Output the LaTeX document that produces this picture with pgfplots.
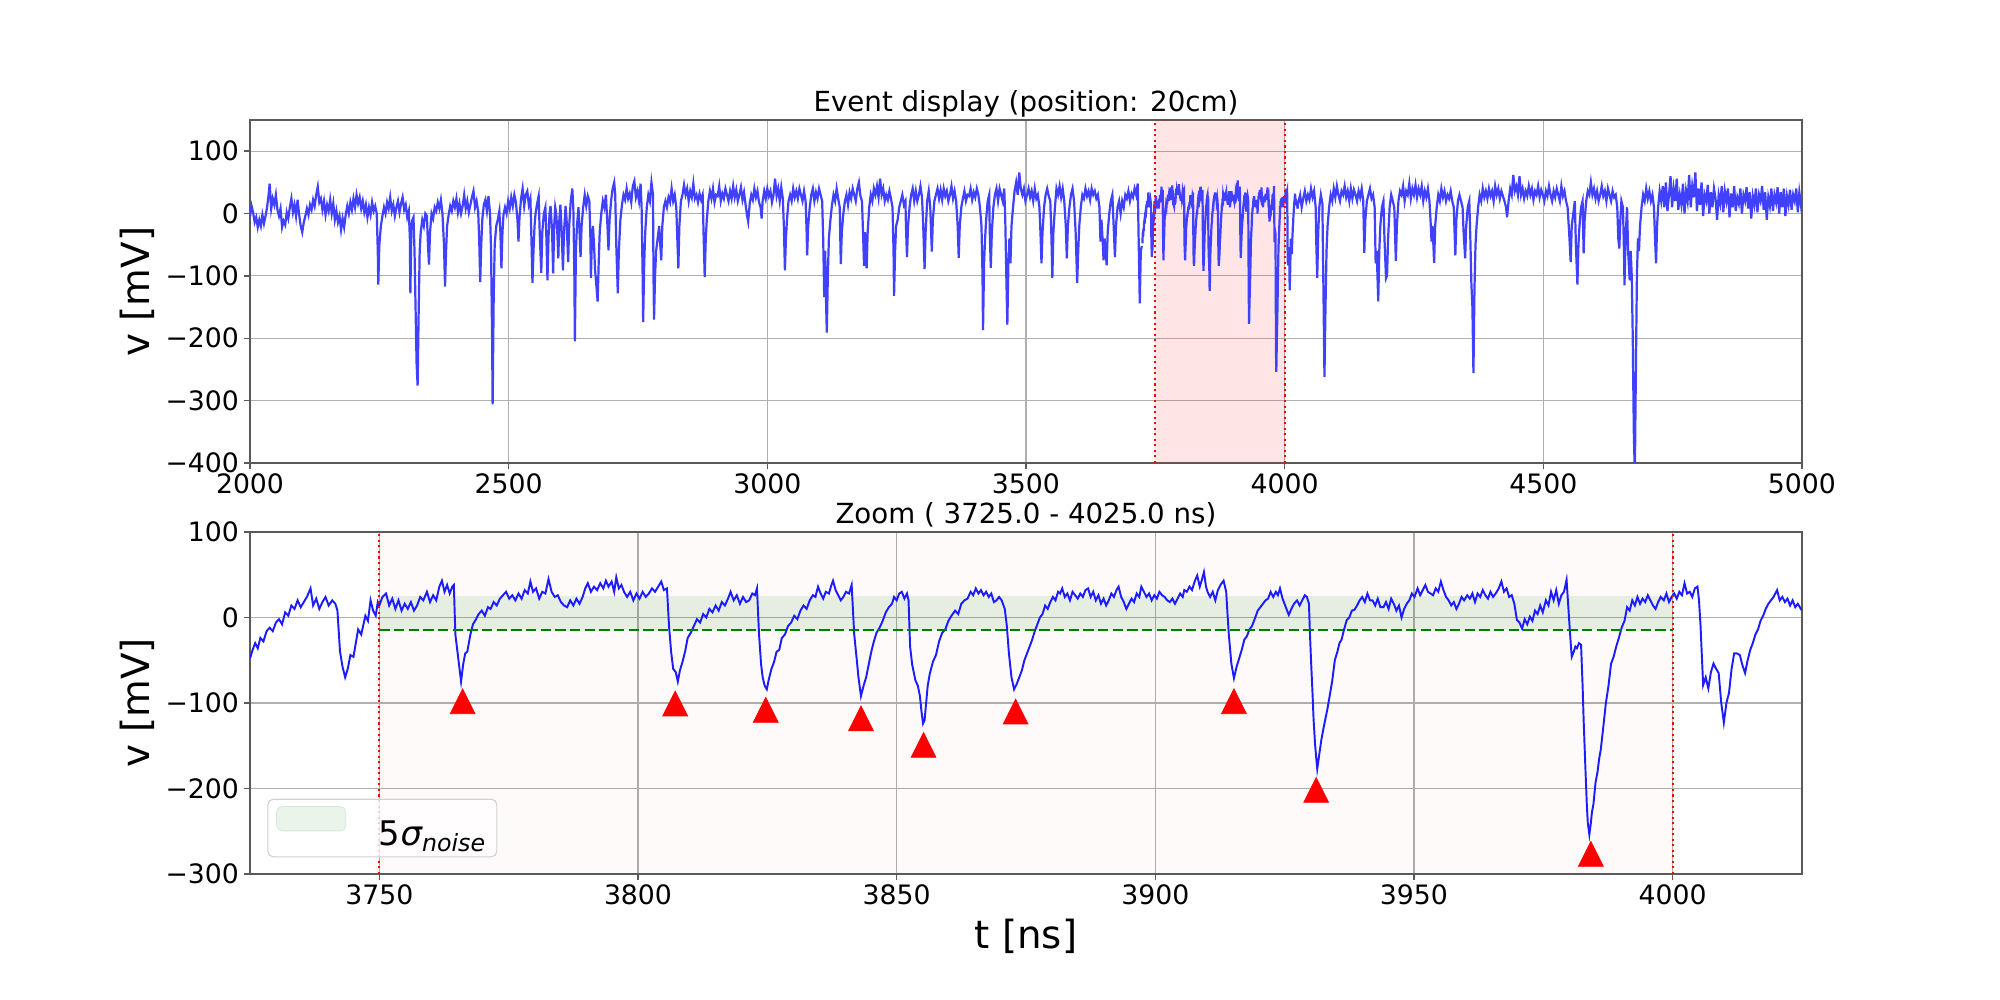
\documentclass[border=0pt]{standalone}
\usepackage{fontspec}
\setmainfont{DejaVu Sans}
\usepackage{pgfplots}
\usepackage{pgfplotstable}
\pgfplotsset{compat=1.18}
\definecolor{traceA}{RGB}{64,64,255}
\definecolor{traceB}{RGB}{28,28,255}
\definecolor{mgreen}{RGB}{0,128,0}
\definecolor{gridc}{RGB}{176,176,176}
\definecolor{spine}{RGB}{90,90,90}
\definecolor{legG}{RGB}{229,242,229}
\definecolor{legGe}{RGB}{214,232,214}
\pgfdeclareplotmark{mtri}{%
  \pgfpathmoveto{\pgfqpoint{0pt}{\pgfplotmarksize}}%
  \pgfpathlineto{\pgfqpoint{-\pgfplotmarksize}{-\pgfplotmarksize}}%
  \pgfpathlineto{\pgfqpoint{\pgfplotmarksize}{-\pgfplotmarksize}}%
  \pgfpathclose\pgfusepathqfillstroke}
\newcommand\tickfont{\fontsize{19.3}{23}\selectfont}
\newcommand\labfont{\fontsize{28}{33}\selectfont}
\newcommand\titfont{\fontsize{20}{24}\selectfont}

\pgfplotstableread{
t v
2000 -5
2003 12
2006 2
2009 -14
2012 -6
2015 -22
2018 -10
2021 -20
2024 -2
2027 -16
2030 -4
2033 10
2036 30
2038 48
2041 8
2044 24
2047 14
2050 30
2053 6
2056 -4
2059 8
2062 -22
2065 -12
2068 -18
2071 2
2074 -8
2077 10
2080 24
2083 2
2086 14
2089 -4
2092 22
2095 -2
2098 -20
2101 -30
2104 -14
2107 -4
2110 8
2113 -2
2116 14
2119 6
2122 22
2125 12
2128 30
2131 43
2134 18
2137 24
2140 6
2143 20
2146 -2
2149 14
2152 4
2155 22
2158 0
2161 16
2164 -10
2167 4
2170 -14
2173 -4
2176 -26
2179 -8
2182 -22
2185 -2
2188 12
2191 0
2194 18
2197 6
2200 24
2203 10
2206 30
2209 16
2212 26
2215 8
2218 20
2221 2
2224 14
2227 -6
2230 10
2233 -2
2236 18
2239 4
2242 12
2245 0
2247 -60
2248 -114
2250 -50
2253 -20
2256 -4
2259 10
2262 0
2265 18
2268 8
2271 26
2274 4
2277 14
2280 -4
2283 10
2286 20
2289 2
2292 16
2295 26
2298 6
2301 14
2304 -6
2307 4
2309 -40
2310 -128
2312 -20
2314 -10
2316 -6
2318 -60
2320 -150
2322 -240
2324 -276
2326 -160
2328 -60
2330 -30
2333 -10
2336 -20
2339 0
2342 -4
2344 -50
2346 -82
2348 -30
2351 0
2354 -8
2357 10
2360 4
2363 18
2366 8
2369 22
2372 0
2375 -50
2377 -117
2379 -60
2381 -20
2384 -2
2387 12
2390 4
2393 20
2396 10
2399 24
2402 2
2405 16
2408 0
2411 12
2414 30
2417 8
2420 20
2423 2
2426 14
2429 26
2432 36
2435 10
2438 20
2441 4
2443 -40
2445 -110
2447 -50
2449 -10
2452 14
2455 22
2458 4
2461 28
2464 0
2466 -60
2468 -200
2469 -306
2471 -140
2473 -50
2476 -20
2479 -10
2482 4
2484 -30
2486 -88
2488 -30
2490 -2
2493 10
2496 0
2499 20
2502 8
2505 26
2508 12
2511 30
2514 18
2517 -10
2519 -45
2521 -5
2524 24
2527 40
2530 12
2533 30
2536 36
2539 14
2542 24
2544 -40
2546 -111
2548 -60
2550 -20
2552 0
2555 16
2558 28
2560 -30
2563 -95
2565 -30
2568 0
2571 10
2573 -40
2575 -107
2577 -40
2579 0
2581 12
2584 -30
2586 -96
2588 -20
2590 10
2592 0
2594 -30
2596 -72
2598 -10
2600 14
2602 -20
2605 -91
2607 -30
2610 12
2612 -10
2615 -78
2617 -20
2620 20
2623 40
2625 10
2627 -100
2628 -205
2630 -60
2632 -20
2635 10
2637 -30
2639 -70
2641 -20
2644 10
2647 30
2650 12
2653 28
2656 20
2658 -40
2659 -103
2661 -40
2663 -20
2665 -50
2667 -90
2670 -120
2672 -141
2674 -80
2676 -30
2679 0
2682 20
2685 10
2688 30
2691 -20
2693 -59
2695 -10
2698 20
2701 40
2704 50
2706 30
2708 -50
2711 -128
2713 -60
2716 -10
2719 14
2722 30
2725 22
2728 40
2731 24
2734 32
2737 18
2740 44
2743 52
2746 26
2749 36
2752 20
2755 48
2757 10
2759 -100
2760 -174
2762 -80
2764 -30
2767 10
2770 30
2773 20
2776 50
2779 30
2780 -100
2781 -170
2783 -100
2785 -60
2788 -40
2791 -20
2793 -50
2795 -75
2797 -20
2800 10
2803 20
2806 10
2809 26
2812 18
2815 40
2818 20
2821 30
2824 10
2826 -40
2828 -88
2830 -20
2833 20
2836 30
2839 46
2842 30
2845 40
2848 20
2851 36
2854 26
2857 48
2860 24
2863 30
2866 18
2869 32
2872 22
2875 30
2877 -40
2879 -102
2881 -40
2883 -10
2886 20
2889 36
2892 24
2895 40
2898 18
2901 30
2904 28
2907 44
2910 20
2913 32
2916 24
2919 40
2922 30
2925 20
2928 36
2931 24
2934 44
2937 26
2940 38
2943 20
2946 30
2949 42
2952 22
2955 34
2958 14
2961 -4
2963 -13
2966 16
2969 30
2972 22
2975 40
2978 26
2981 36
2984 18
2987 10
2989 -8
2991 20
2994 36
2997 24
3000 40
3003 28
3006 36
3009 18
3012 30
3015 56
3018 28
3021 40
3024 20
3027 42
3030 24
3032 -20
3034 -91
3036 -40
3038 -10
3041 20
3044 30
3047 20
3050 40
3053 26
3056 36
3059 24
3062 40
3065 30
3068 20
3071 36
3074 20
3076 -30
3077 -67
3079 -20
3082 10
3085 30
3088 40
3091 20
3094 34
3097 24
3100 40
3103 30
3106 20
3108 -40
3110 -134
3112 -60
3113 -120
3115 -191
3117 -100
3119 -40
3122 -10
3125 14
3128 30
3131 20
3134 40
3137 24
3140 10
3142 -81
3144 -30
3147 0
3150 20
3153 30
3156 14
3159 34
3162 24
3165 40
3168 30
3171 20
3174 40
3177 50
3180 28
3183 20
3185 -30
3187 -84
3189 -30
3190 -60
3192 -88
3194 -30
3197 10
3200 30
3203 20
3206 40
3209 30
3212 44
3215 26
3218 56
3221 30
3224 40
3227 20
3230 30
3233 22
3236 36
3239 24
3242 10
3244 -60
3245 -132
3247 -60
3249 -20
3252 -10
3255 10
3258 20
3261 30
3264 14
3267 20
3268 -20
3270 -70
3272 -20
3275 10
3278 30
3281 40
3284 20
3287 36
3290 20
3293 30
3296 44
3299 26
3301 -10
3304 -89
3306 -30
3309 20
3312 36
3315 10
3318 -61
3320 -10
3323 20
3326 30
3329 40
3332 24
3335 38
3338 22
3341 40
3344 28
3347 36
3350 20
3353 30
3356 44
3359 24
3362 36
3365 20
3368 -20
3370 -71
3372 -20
3375 10
3378 24
3381 36
3384 20
3387 30
3390 28
3393 40
3396 22
3399 34
3402 26
3405 40
3408 30
3411 10
3414 -20
3416 -100
3417 -187
3419 -80
3421 -40
3423 -10
3426 20
3429 30
3430 -30
3432 -87
3434 -30
3437 10
3440 30
3443 40
3446 20
3449 40
3452 30
3455 20
3458 40
3460 -10
3462 -100
3464 -178
3466 -80
3468 -40
3470 -80
3472 -20
3475 10
3478 36
3481 50
3484 30
3487 66
3490 40
3493 30
3496 40
3499 20
3502 30
3505 40
3508 26
3511 36
3514 20
3517 40
3520 24
3523 30
3526 10
3528 -30
3530 -80
3532 -30
3535 10
3538 30
3541 40
3544 28
3547 20
3549 -30
3551 -103
3553 -30
3556 10
3559 40
3562 30
3565 44
3568 26
3571 40
3574 20
3577 -20
3579 -72
3581 -20
3584 10
3587 30
3590 40
3593 20
3596 -30
3599 -111
3601 -60
3603 -20
3606 10
3609 30
3612 24
3615 40
3618 28
3621 36
3624 22
3627 40
3630 30
3633 36
3636 24
3639 30
3642 10
3644 -45
3646 -10
3648 -40
3650 -75
3652 -40
3654 -60
3656 -83
3658 -30
3661 0
3664 20
3667 30
3669 -10
3672 -70
3674 -20
3677 10
3680 20
3683 0
3686 20
3689 10
3692 30
3695 24
3698 36
3701 20
3704 32
3707 26
3710 40
3713 30
3716 48
3718 -50
3720 -144
3722 -60
3724 -52
}\topA

\pgfplotstableread{
t v
3725.0 -48
3725.5 -38
3726.0 -30
3726.5 -36
3727.0 -24
3727.6 -28
3728.2 -16
3728.8 -12
3729.4 -16
3730.0 -6
3730.6 -2
3731.2 -8
3731.8 6
3732.4 2
3733.0 14
3733.6 10
3734.2 20
3734.8 12
3735.4 18
3736.0 24
3736.7 34
3737.2 14
3737.8 22
3738.4 10
3739.0 18
3739.6 24
3740.2 14
3740.9 20
3741.5 16
3741.9 8
3742.4 -40
3742.9 -58
3743.4 -70
3743.9 -60
3744.4 -44
3745.0 -46
3745.9 -14
3746.5 -20
3747.3 2
3747.8 -4
3748.3 20
3748.8 8
3749.3 2
3749.7 18
3750.0 14
3750.6 24
3751.3 28
3751.9 14
3752.5 22
3753.1 10
3753.7 20
3754.3 8
3754.9 16
3755.5 10
3756.1 18
3756.7 8
3757.3 14
3757.9 24
3758.5 20
3759.2 30
3759.8 18
3760.4 26
3761.0 20
3761.6 36
3762.1 43
3762.6 30
3763.1 38
3763.6 28
3764.1 36
3764.4 38
3764.7 -20
3765.1 -40
3765.5 -60
3765.8 -75
3766.2 -55
3766.6 -42
3767.0 -40
3767.6 -20
3768.1 -8
3768.6 -3
3769.2 4
3769.8 8
3770.4 2
3771.0 12
3771.5 10
3772.1 18
3772.7 14
3773.3 22
3773.9 26
3774.5 30
3775.1 22
3775.7 26
3776.3 20
3776.9 28
3777.5 22
3778.1 32
3778.7 28
3779.2 42
3779.7 30
3780.3 34
3780.9 22
3781.5 30
3782.1 28
3782.7 45
3783.3 30
3783.9 24
3784.5 26
3785.1 18
3785.7 14
3786.3 12
3786.9 20
3787.5 14
3788.1 22
3788.7 16
3789.3 24
3789.8 34
3790.3 40
3790.9 30
3791.5 36
3792.1 32
3792.7 40
3793.3 34
3793.8 43
3794.3 36
3794.9 42
3795.4 30
3795.8 47
3796.3 34
3796.8 38
3797.3 30
3797.9 24
3798.5 30
3799.1 20
3799.7 28
3800.3 22
3800.9 30
3801.5 24
3802.1 28
3802.7 34
3803.3 30
3803.9 36
3804.5 42
3805.0 32
3805.6 34
3806.0 -10
3806.4 -40
3806.8 -60
3807.3 -64
3807.7 -75
3808.1 -62
3808.6 -52
3809.1 -40
3809.6 -24
3810.2 -18
3810.8 -10
3811.4 -2
3812.0 -6
3812.6 4
3813.2 0
3813.8 10
3814.4 6
3815.0 14
3815.6 8
3816.2 18
3816.8 14
3817.4 22
3817.9 30
3818.5 20
3819.1 26
3819.7 16
3820.3 24
3820.9 18
3821.5 20
3822.1 28
3822.6 26
3823.0 34
3823.4 -20
3823.8 -55
3824.1 -70
3824.5 -80
3824.9 -84
3825.3 -72
3825.8 -60
3826.3 -52
3826.8 -40
3827.3 -38
3827.8 -24
3828.4 -20
3829.0 -10
3829.6 -6
3830.2 2
3830.8 -2
3831.4 8
3832.0 14
3832.6 10
3833.2 20
3833.8 26
3834.3 24
3834.8 36
3835.3 28
3835.8 22
3836.3 30
3836.9 28
3837.4 38
3837.7 43
3838.2 32
3838.7 26
3839.2 20
3839.7 24
3840.2 30
3840.8 28
3841.3 38
3841.8 -20
3842.3 -50
3842.6 -69
3843.1 -92
3843.6 -80
3844.1 -70
3844.6 -55
3845.1 -40
3845.6 -28
3846.1 -18
3846.7 -12
3847.3 -4
3847.9 6
3848.5 12
3849.1 16
3849.5 24
3850.0 20
3850.5 28
3851.0 30
3851.5 22
3852.0 28
3852.3 20
3852.6 -34
3853.0 -55
3853.6 -73
3854.1 -80
3854.5 -92
3854.8 -110
3855.1 -124
3855.4 -120
3855.7 -100
3856.0 -80
3856.4 -66
3857.0 -52
3857.6 -44
3858.2 -28
3858.8 -18
3859.4 -14
3860.0 -4
3860.6 2
3861.3 8
3861.9 4
3862.5 16
3863.1 20
3863.7 22
3864.3 30
3864.8 26
3865.3 34
3865.8 28
3866.3 32
3866.8 26
3867.3 30
3867.8 24
3868.3 28
3868.8 18
3869.3 20
3869.8 24
3870.3 20
3870.9 10
3871.3 -10
3871.7 -42
3872.2 -70
3872.7 -84
3873.2 -78
3873.7 -70
3874.2 -62
3874.7 -50
3875.2 -42
3875.7 -34
3876.2 -26
3876.7 -16
3877.2 -8
3877.7 0
3878.2 4
3878.7 14
3879.2 10
3879.7 18
3880.2 24
3880.7 20
3881.2 30
3881.6 28
3882.0 34
3882.5 24
3883.0 28
3883.5 20
3884.0 30
3884.5 26
3885.0 22
3885.5 28
3886.0 24
3886.5 32
3887.0 34
3887.5 24
3888.0 30
3888.5 20
3889.0 26
3889.5 16
3890.0 22
3890.5 14
3891.0 20
3891.5 28
3892.0 24
3892.5 32
3892.9 36
3893.4 24
3893.9 18
3894.4 10
3894.9 16
3895.4 22
3895.9 18
3896.4 28
3896.9 24
3897.3 36
3897.8 30
3898.3 24
3898.8 28
3899.3 20
3899.8 26
3900.3 22
3900.8 30
3901.3 26
3901.8 24
3902.3 20
3902.8 18
3903.3 22
3903.8 16
3904.3 22
3904.8 28
3905.3 24
3905.6 32
3906.1 30
3906.6 36
3907.1 32
3907.6 42
3908.1 49
3908.6 36
3909.0 44
3909.4 53
3909.8 36
3910.1 30
3910.6 24
3911.1 30
3911.6 20
3912.1 32
3912.6 38
3913.2 43
3913.7 30
3914.0 0
3914.2 -19
3914.5 -40
3914.7 -54
3915.0 -64
3915.2 -71
3915.7 -58
3916.2 -48
3916.7 -38
3917.2 -26
3917.7 -22
3918.2 -14
3918.7 -10
3919.2 -2
3919.8 8
3920.3 12
3920.8 16
3921.3 20
3921.8 22
3922.3 30
3922.8 24
3923.3 30
3923.7 26
3924.1 34
3924.6 22
3925.1 14
3925.8 3
3926.3 10
3926.8 16
3927.4 20
3927.9 14
3928.4 20
3928.9 26
3929.3 24
3929.7 16
3929.9 -20
3930.1 -50
3930.4 -90
3930.6 -120
3930.9 -150
3931.3 -177
3931.7 -160
3932.1 -143
3932.5 -130
3932.9 -118
3933.3 -106
3933.7 -92
3934.2 -74
3934.7 -50
3935.2 -40
3935.6 -30
3936.0 -26
3936.5 -14
3937.0 -3
3937.5 0
3938.0 8
3938.5 9
3939.0 14
3939.5 20
3940.0 24
3940.5 18
3941.0 28
3941.5 20
3942.0 20
3942.5 14
3943.0 22
3943.5 12
3944.1 12
3944.6 18
3945.1 10
3945.6 22
3946.1 16
3946.6 8
3947.1 14
3947.6 0
3948.1 10
3948.6 16
3949.1 20
3949.6 28
3950.1 24
3950.7 34
3951.2 26
3951.7 32
3952.2 38
3952.7 30
3953.2 28
3953.7 26
3954.2 34
3954.7 30
3955.2 42
3955.7 32
3956.2 24
3956.7 20
3957.2 14
3957.7 18
3958.2 10
3958.7 16
3959.2 24
3959.7 20
3960.3 26
3960.8 22
3961.3 28
3961.8 18
3962.3 28
3962.8 24
3963.3 32
3963.8 26
3964.3 22
3964.8 30
3965.3 24
3965.8 28
3966.4 34
3966.9 42
3967.4 30
3967.9 34
3968.4 24
3968.9 26
3969.4 16
3969.9 -3
3970.4 -6
3970.9 -13
3971.4 -2
3971.9 -8
3972.4 1
3972.9 -4
3973.4 8
3973.9 4
3974.4 14
3974.9 6
3975.5 20
3976.0 14
3976.5 30
3977.0 20
3977.5 32
3978.0 16
3978.5 26
3979.0 30
3979.5 44
3980.0 -3
3980.3 -30
3980.5 -46
3980.9 -40
3981.2 -34
3981.5 -36
3981.9 -30
3982.3 -32
3982.6 -80
3982.8 -120
3983.1 -170
3983.4 -217
3983.6 -240
3983.9 -254
3984.2 -240
3984.4 -228
3984.7 -218
3985.1 -193
3985.5 -180
3985.8 -165
3986.1 -155
3986.6 -128
3987.1 -100
3987.6 -80
3988.1 -54
3988.6 -46
3989.1 -34
3989.6 -24
3990.2 -11
3990.7 -4
3991.2 12
3991.7 8
3992.2 20
3992.7 14
3993.2 24
3993.7 16
3994.2 22
3994.7 18
3995.2 26
3995.7 20
3996.2 14
3996.7 10
3997.2 18
3997.7 24
3998.3 20
3998.8 28
3999.3 18
3999.8 24
4000.3 28
4000.8 22
4001.3 30
4001.8 26
4002.3 40
4002.8 28
4003.3 30
4003.8 24
4004.3 34
4004.8 36
4005.1 20
4005.4 -10
4005.9 -79
4006.4 -70
4006.9 -83
4007.4 -64
4007.9 -54
4008.4 -60
4008.9 -65
4009.4 -100
4009.9 -123
4010.4 -100
4010.9 -88
4011.4 -60
4011.9 -42
4012.4 -42
4013.0 -44
4013.5 -56
4014.0 -65
4014.5 -50
4015.0 -38
4015.5 -30
4016.0 -20
4016.5 -14
4017.0 -4
4017.5 2
4018.0 10
4018.5 16
4019.0 20
4019.5 24
4020.2 32
4020.7 20
4021.2 24
4021.7 18
4022.2 22
4022.7 14
4023.2 20
4023.7 12
4024.2 16
4025.0 8
}\zoomdata

\pgfplotstableread{
t v
4025 8
4027 20
4030 30
4033 10
4036 24
4039 36
4042 20
4045 30
4048 22
4051 40
4054 26
4057 36
4060 10
4061 -40
4063 -103
4065 -30
4067 10
4070 30
4073 16
4075 -120
4077 -262
4079 -150
4081 -60
4083 -20
4086 10
4089 30
4092 20
4095 40
4098 26
4101 44
4104 30
4107 20
4110 36
4113 30
4116 44
4119 26
4122 36
4125 20
4128 40
4131 24
4134 38
4137 30
4140 20
4143 36
4146 26
4149 40
4152 20
4154 -63
4156 -10
4159 20
4162 30
4165 40
4168 24
4171 30
4174 10
4176 -80
4178 -60
4181 -141
4183 -60
4185 -20
4188 10
4191 20
4193 -40
4196 -104
4198 -100
4200 -40
4203 10
4206 30
4209 20
4212 10
4215 -76
4217 -20
4220 20
4223 36
4226 30
4229 44
4232 20
4235 36
4238 30
4241 48
4244 24
4247 40
4250 30
4253 46
4256 26
4259 40
4262 30
4265 44
4268 20
4271 36
4274 26
4277 40
4280 20
4282 -10
4284 -45
4286 -20
4289 -79
4291 -20
4294 10
4297 30
4300 20
4303 40
4306 26
4309 36
4312 20
4315 30
4318 24
4321 36
4324 20
4327 10
4330 -67
4332 -10
4335 20
4338 30
4341 20
4344 10
4346 -30
4349 -72
4351 -20
4354 10
4357 20
4359 -40
4361 -112
4363 -150
4365 -256
4367 -120
4369 -50
4371 -20
4374 10
4377 30
4380 20
4383 40
4386 26
4389 36
4392 24
4395 40
4398 28
4401 36
4404 20
4407 44
4410 30
4413 40
4416 24
4419 36
4422 28
4425 20
4428 10
4430 -6
4433 20
4436 40
4439 30
4442 62
4445 36
4448 44
4451 30
4454 60
4457 30
4460 40
4463 24
4466 36
4469 28
4472 44
4475 30
4478 40
4481 22
4484 36
4487 30
4490 44
4493 26
4496 38
4499 30
4502 20
4505 36
4508 28
4511 44
4514 30
4517 20
4520 36
4523 26
4526 40
4529 30
4532 20
4535 44
4538 28
4541 36
4544 20
4547 10
4550 -30
4553 -78
4555 -20
4558 0
4561 20
4563 -50
4566 -114
4568 -50
4570 -20
4573 10
4576 20
4578 -64
4580 -10
4583 20
4586 36
4589 30
4592 50
4595 30
4598 40
4601 24
4604 36
4607 20
4610 30
4613 44
4616 28
4619 36
4622 20
4625 40
4628 30
4631 20
4634 36
4637 26
4640 30
4643 10
4645 -40
4647 -56
4649 -10
4651 20
4654 10
4656 -60
4657 -115
4659 -40
4662 10
4664 -60
4667 -107
4669 -60
4671 -100
4673 -200
4675 -350
4677 -420
4679 -250
4681 -100
4683 -40
4685 -60
4687 -20
4690 10
4693 30
4696 20
4699 40
4702 24
4705 36
4708 20
4711 30
4714 10
4716 -40
4718 -80
4720 -20
4722 10
4725 36
4728 20
4731 44
4734 10
4737 50
4740 4
4743 30
4746 60
4749 10
4752 40
4755 20
4758 56
4761 6
4764 30
4767 14
4770 48
4773 0
4776 36
4779 20
4782 62
4785 10
4788 44
4791 26
4794 66
4797 4
4800 40
4803 14
4806 50
4809 -4
4812 30
4815 20
4818 46
4821 0
4824 34
4827 10
4830 40
4833 24
4836 -10
4839 30
4842 16
4845 44
4848 2
4851 36
4854 20
4857 40
4860 -6
4863 32
4866 10
4869 44
4872 4
4875 26
4878 16
4881 40
4884 0
4887 30
4890 20
4893 42
4896 8
4899 34
4902 -8
4905 28
4908 14
4911 40
4914 2
4917 30
4920 20
4923 44
4926 6
4929 34
4932 -10
4935 26
4938 12
4941 40
4944 4
4947 30
4950 18
4953 42
4956 0
4959 34
4962 10
4965 40
4968 -4
4971 28
4974 14
4977 38
4980 6
4983 30
4986 20
4989 40
4992 2
4995 34
4998 14
5000 24
}\topB

\pgfplotstableread{
t v
3766.1 -98
3807.2 -100.6
3824.7 -108
3843.1 -118
3855.2 -149
3873.0 -110
3915.2 -98
3931.1 -201.7
3984.2 -276.5
}\peaks

\pgfplotsset{
  mystyle/.style={
    scale only axis,
    width=1121.6pt,
    anchor=south west,
    axis line style={spine, line width=1.1pt},
    tick align=outside,
    major tick length=4.5pt,
    tick style={spine, line width=1pt},
    xtick pos=bottom, ytick pos=left,
    grid=major,
    major grid style={gridc, line width=0.8pt},
    ticklabel style={font=\tickfont},
    title style={font=\titfont, anchor=base},
    ylabel style={font=\labfont, at={(axis description cs:-0.0728,0.5)}, anchor=center},
    clip=true,
  }
}

\begin{document}
\begin{tikzpicture}
\useasboundingbox (0,0) rectangle (1445.4pt,722.7pt);
\begin{axis}[mystyle,
  at={(180.68pt,388.09pt)}, height=247.9pt,
  xmin=2000, xmax=5000, ymin=-400, ymax=150,
  xtick={2000,2500,3000,3500,4000,4500,5000},
  xticklabels={2000,2500,3000,3500,4000,4500,5000},
  ytick={-400,-300,-200,-100,0,100},
  yticklabels={−400,−300,−200,−100,0,100},
  title={Event display (position: 20cm)},
  ylabel={v [mV]},
]
\fill[red, fill opacity=0.1] (axis cs:3750,-400) rectangle (axis cs:4000,150);
\addplot[traceA, line width=1.6pt, forget plot] table[x=t,y=v] {\topA};
\addplot[traceA, line width=1.6pt, forget plot] table[x=t,y=v] {\zoomdata};
\addplot[traceA, line width=1.6pt, forget plot] table[x=t,y=v] {\topB};
\draw[red, line width=1.5pt, dash pattern=on 1.5pt off 2.5pt] (axis cs:3750,-400) -- (axis cs:3750,150);
\draw[red, line width=1.5pt, dash pattern=on 1.5pt off 2.5pt] (axis cs:4000,-400) -- (axis cs:4000,150);
\end{axis}

\begin{axis}[mystyle,
  at={(180.68pt,91.06pt)}, height=247.2pt,
  xmin=3725, xmax=4025, ymin=-300, ymax=100,
  xtick={3750,3800,3850,3900,3950,4000},
  xticklabels={3750,3800,3850,3900,3950,4000},
  ytick={-300,-200,-100,0,100},
  yticklabels={−300,−200,−100,0,100},
  title={Zoom ( 3725.0 - 4025.0 ns)},
  ylabel={v [mV]},
  xlabel={t [ns]},
  xlabel style={font=\labfont, at={(axis description cs:0.5,-0.1827)}, anchor=center},
  legend style={at={(axis description cs:0,0)}, anchor=south west, xshift=12.5pt, yshift=12pt,
    draw=black!18, line width=0.8pt, rounded corners=4pt, fill=white, fill opacity=0.8, text opacity=1,
    font=\fontsize{24.5}{29}\selectfont, inner xsep=6pt, inner ysep=5pt},
  legend cell align=left,
]
\addlegendimage{legend image code/.code={\fill[legG, draw=legGe, line width=0.6pt] (0pt,-1.5pt) rectangle (50pt,16.1pt); \path[draw=none] (0pt,0pt) -- (72pt,0pt);}}
\addlegendentry{\rule{0pt}{25pt}5{\itshape σ}\textsubscript{\itshape noise}\hspace{11pt}}
\fill[red, fill opacity=0.02] (axis cs:3750,-300) rectangle (axis cs:4000,100);
\fill[mgreen, fill opacity=0.1] (axis cs:3750,-14.8) rectangle (axis cs:4000,24.9);
\addplot[traceB, line width=1.4pt, forget plot] table[x=t,y=v] {\zoomdata};
\addplot[mgreen, line width=2pt, dash pattern=on 7.4pt off 3.2pt, forget plot] coordinates {(3750,-14.8) (4000,-14.8)};
\draw[red, line width=1.5pt, dash pattern=on 1.5pt off 2.5pt] (axis cs:3750,-300) -- (axis cs:3750,100);
\draw[red, line width=1.5pt, dash pattern=on 1.5pt off 2.5pt] (axis cs:4000,-300) -- (axis cs:4000,100);
\addplot[only marks, mark=mtri, mark size=9pt, red, mark options={fill=red, draw=red, line width=0.5pt}, forget plot] table[x=t,y=v] {\peaks};
\end{axis}
\end{tikzpicture}
\end{document}
